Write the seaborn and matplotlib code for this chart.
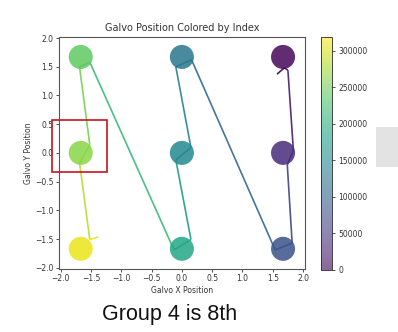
import matplotlib
matplotlib.use("Agg")
import matplotlib.pyplot as plt
import seaborn as sns
import numpy as np
import pandas as pd
from matplotlib.collections import LineCollection
from matplotlib.patches import Rectangle
from matplotlib.colors import Normalize
from matplotlib.cm import ScalarMappable

# dwell positions (dots) and their sample index
dot_x = [1.67, 1.67, 1.67, 0.0, 0.0, 0.0, -1.67, -1.67, -1.67]
dot_y = [1.67, 0.0, -1.67, 1.67, 0.0, -1.67, 1.67, 0.0, -1.67]
dot_idx = [5000, 40000, 80000, 125000, 150000, 190000, 240000, 262000, 310000]

# galvo trajectory vertices with sample index
path_x = [1.57, 1.69, 1.75, 1.84, 1.74, 1.82, 1.54, 0.16, -0.10, 0.15,
          -0.10, 0.15, -0.13, -1.52, -1.69, -1.52, -1.69, -1.52, -1.38]
path_y = [1.37, 1.48, 1.44, 0.05, -0.21, -1.57, -1.69, 1.62, 1.50, 0.09,
          -0.12, -1.51, -1.69, 1.58, 1.50, 0.14, -0.17, -1.51, -1.46]
path_idx = [0, 2000, 12000, 35000, 45000, 75000, 90000, 118000, 130000, 148000,
            158000, 185000, 198000, 232000, 245000, 260000, 268000, 300000, 319000]

cbar_ticks = [0, 50000, 100000, 150000, 200000, 250000, 300000]
vmax = 319000

sns.set_style("ticks")
plt.rcParams['font.family'] = ['DejaVu Sans']

fig = plt.figure(figsize=(3.98, 3.32), dpi=100)
ax = fig.add_axes([0.148, 0.190, 0.618, 0.699])
cax = fig.add_axes([0.807, 0.187, 0.028, 0.702])

norm = Normalize(vmin=0, vmax=vmax)
cmap = plt.get_cmap("viridis")

pts = np.column_stack([path_x, path_y])
segs = np.stack([pts[:-1], pts[1:]], axis=1)
seg_idx = (np.array(path_idx[:-1]) + np.array(path_idx[1:])) / 2
lc = LineCollection(segs, cmap=cmap, norm=norm, linewidths=1.2, alpha=0.9, zorder=1)
lc.set_array(seg_idx)
ax.add_collection(lc)

df = pd.DataFrame({"x": dot_x, "y": dot_y, "idx": dot_idx})
sns.scatterplot(data=df, x="x", y="y", hue="idx", palette="viridis",
                hue_norm=(0, vmax), s=300, alpha=0.85, linewidth=0,
                legend=False, ax=ax, zorder=2)

ax.set_xlim(-2.03, 2.03)
ax.set_ylim(-2.02, 2.02)
ax.set_xticks(np.arange(-2.0, 2.01, 0.5))
ax.set_yticks(np.arange(-2.0, 2.01, 0.5))
ax.tick_params(labelsize=5.5, length=2.5, width=0.6, colors="#333333", pad=1.5)
for s in ax.spines.values():
    s.set_linewidth(0.8)
    s.set_color("#555555")
ax.set_title("Galvo Position Colored by Index", fontsize=7, pad=4, color="#333333")
ax.set_xlabel("Galvo X Position", fontsize=5.5, labelpad=1.5, color="#333333")
ax.set_ylabel("Galvo Y Position", fontsize=5.5, labelpad=1.5, color="#333333")

sm = ScalarMappable(norm=norm, cmap=cmap)
cbar = fig.colorbar(sm, cax=cax, ticks=cbar_ticks)
cbar.solids.set_alpha(0.6)
cbar.outline.set_linewidth(0.6)
cbar.ax.tick_params(labelsize=5.5, length=2.5, width=0.6, colors="#333333", pad=2)

# red highlight box and grey box overlay
fig.patches.append(Rectangle((52 / 398, 1 - 172 / 332), 55 / 398, 52 / 332,
                             transform=fig.transFigure, fill=False,
                             edgecolor="#c8141e", linewidth=1.2))
fig.patches.append(Rectangle((376 / 398, 1 - 167 / 332), 22 / 398, 40 / 332,
                             transform=fig.transFigure, facecolor="#e3e3e3",
                             edgecolor="none"))

fig.text(0.425, 0.052, "Group 4 is 8th", fontsize=15.5, ha="center", va="center",
         family=["Liberation Sans", "DejaVu Sans"], color="#111111")

fig.savefig("out.png", dpi=100)
